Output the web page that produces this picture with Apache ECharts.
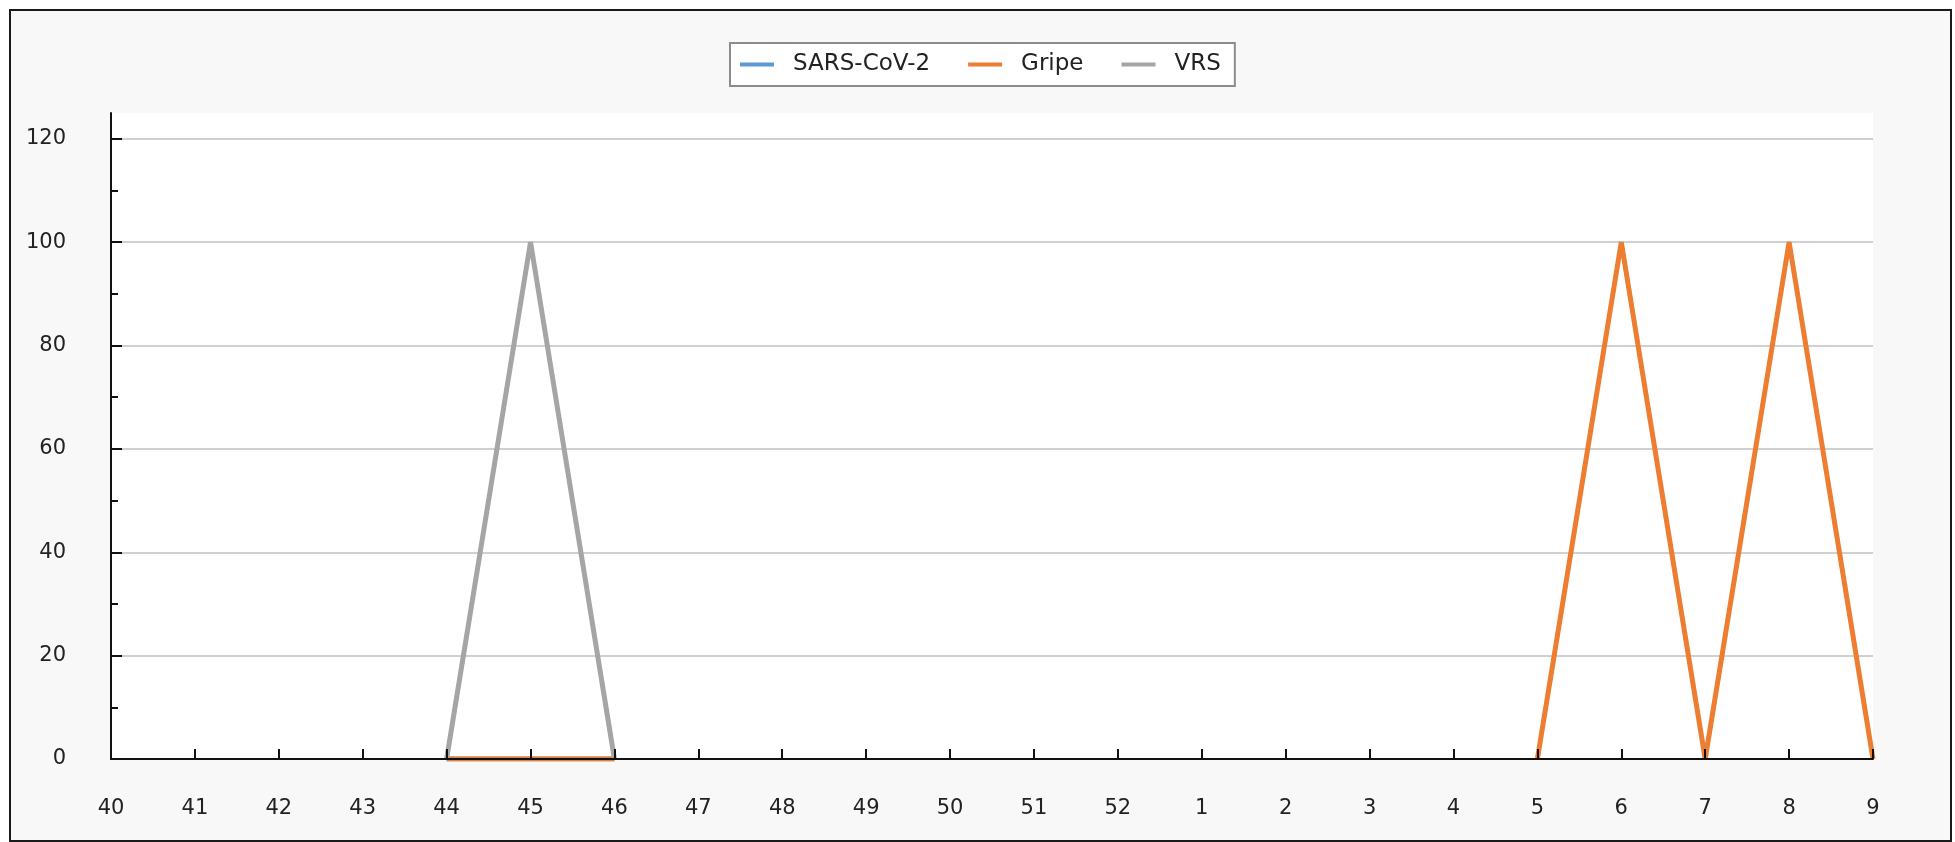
<!DOCTYPE html>
<html>
<head>
<meta charset="utf-8">
<script src="https://cdn.jsdelivr.net/npm/echarts@6/dist/echarts.min.js"></script>
<style>
html,body{margin:0;padding:0;background:#ffffff;}
#chart{width:1955px;height:842px;}
</style>
</head>
<body>
<div id="chart"></div>
<script>
// Epidemiological weeks
const weeks = ['40','41','42','43','44','45','46','47','48','49','50','51','52','1','2','3','4','5','6','7','8','9'];
// Series values (null = no data)
const sarsCov2 = [null,null,null,null,0,0,0,null,null,null,null,null,null,null,null,null,null,null,null,null,null,null];
const gripe    = [null,null,null,null,0,0,0,null,null,null,null,null,null,null,null,null,null,0,100,0,100,0];
const vrs      = [null,null,null,null,0,100,0,null,null,null,null,null,null,null,null,null,null,null,null,null,null,null];
// Y axis tick values
const yMajorTicks = [0,20,40,60,80,100,120];
const yMinorTicks = [10,30,50,70,90,110];
const seriesNames = ['SARS-CoV-2','Gripe','VRS'];
const seriesColors = ['#5B9BD5','#ED7D31','#A5A5A5'];

const chart = echarts.init(document.getElementById('chart'), null, {renderer:'canvas'});
const font = 'DejaVu Sans';
const seriesData = [sarsCov2, gripe, vrs];

const option = {
  backgroundColor: '#ffffff',
  animation: false,
  textStyle: {fontFamily: font},
  graphic: [{
    type: 'rect', z: -100, silent: true,
    shape: {x: 10, y: 10, width: 1941, height: 831},
    style: {fill: '#f8f8f8', stroke: '#1a1a1a', lineWidth: 2}
  }],
  legend: {
    left: 730, top: 43,
    data: seriesNames,
    icon: 'rect',
    itemWidth: 34, itemHeight: 4, itemGap: 38,
    padding: [10, 14, 10, 10],
    backgroundColor: '#ffffff',
    borderColor: '#8c8c8c', borderWidth: 2,
    textStyle: {fontFamily: font, fontSize: 23, color: '#222', padding: [0,0,0,14]}
  },
  grid: {
    left: 111, right: 82, top: 113, bottom: 83,
    show: true, backgroundColor: '#ffffff', borderWidth: 0
  },
  xAxis: {
    type: 'category', data: weeks, boundaryGap: false, z: 10,
    axisLine: {lineStyle: {color: '#111', width: 2}},
    axisTick: {inside: true, length: 10, lineStyle: {color: '#111', width: 2}},
    axisLabel: {fontFamily: font, fontSize: 21, color: '#222', margin: 39},
    splitLine: {show: false}
  },
  yAxis: [{
    // gridlines only
    type: 'value', min: 0, max: 125, interval: 20, z: 1,
    axisLine: {show: false}, axisTick: {show: false}, axisLabel: {show: false},
    splitLine: {show: true, showMinLine: false, showMaxLine: false, lineStyle: {color: '#d0d0d0', width: 2}}
  }, {
    // axis line, major ticks, labels
    type: 'value', min: 0, max: 125, interval: 20, position: 'left', offset: 0, z: 10,
    axisLine: {show: true, lineStyle: {color: '#111', width: 2}},
    axisTick: {show: true, inside: true, length: 11, customValues: yMajorTicks, lineStyle: {color: '#111', width: 2}},
    axisLabel: {fontFamily: font, fontSize: 21, color: '#222', margin: 45, customValues: yMajorTicks},
    splitLine: {show: false}
  }, {
    // minor ticks
    type: 'value', min: 0, max: 125, interval: 20, position: 'left', offset: 0, z: 10,
    axisLine: {show: false},
    axisTick: {show: true, inside: true, length: 7, customValues: yMinorTicks, lineStyle: {color: '#111', width: 2}},
    axisLabel: {show: false},
    splitLine: {show: false}
  }],
  series: seriesNames.map((name, i) => ({
    name: name, type: 'line', data: seriesData[i],
    yAxisIndex: 0,
    showSymbol: false, symbol: 'none',
    connectNulls: false,
    color: seriesColors[i],
    lineStyle: {width: 5, color: seriesColors[i]}
  }))
};
chart.setOption(option);
</script>
</body>
</html>
